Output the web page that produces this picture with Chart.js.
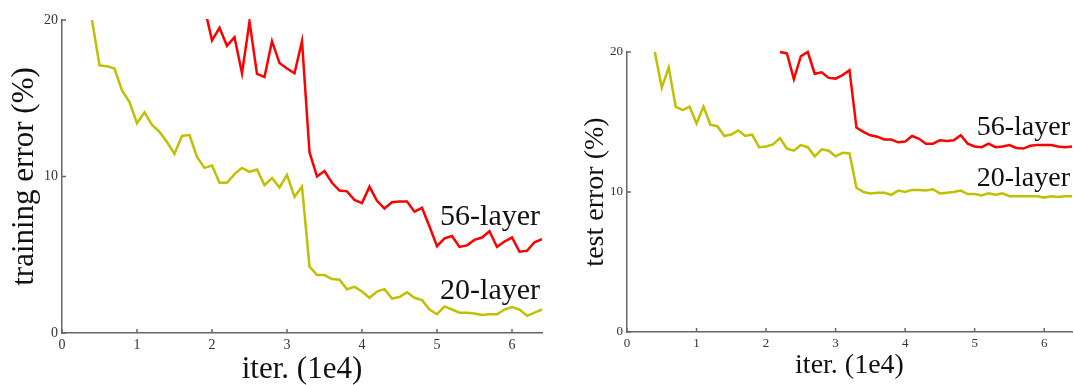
<!DOCTYPE html>
<html>
<head>
<meta charset="utf-8">
<script src="https://cdn.jsdelivr.net/npm/chart.js@4.4.0/dist/chart.umd.min.js"></script>
<style>
  body { margin: 0; background: #fff; }
  .panel { position: absolute; top: 0; }
</style>
</head>
<body>
<div class="panel" style="left:0"><canvas id="train" width="545" height="385"></canvas></div>
<div class="panel" style="left:545px"><canvas id="test" width="529" height="385"></canvas></div>
<script>
// iterations (1e4), one point every 1000 iter
const iters = [
  0.4, 0.5, 0.6, 0.7, 0.8, 0.9,
  1.0, 1.1, 1.2, 1.3, 1.4, 1.5, 1.6, 1.7, 1.8, 1.9,
  2.0, 2.1, 2.2, 2.3, 2.4, 2.5, 2.6, 2.7, 2.8, 2.9,
  3.0, 3.1, 3.2, 3.3, 3.4, 3.5, 3.6, 3.7, 3.8, 3.9,
  4.0, 4.1, 4.2, 4.3, 4.4, 4.5, 4.6, 4.7, 4.8, 4.9,
  5.0, 5.1, 5.2, 5.3, 5.4, 5.5, 5.6, 5.7, 5.8, 5.9,
  6.0, 6.1, 6.2, 6.3, 6.4
];

const seriesNames = ["56-layer", "20-layer"];
const xTicks = [0, 1, 2, 3, 4, 5, 6];
const yTicks = [0, 10, 20];

// training error (%)
const train56 = [
  null, null, null, null, null, null,
  null, null, null, null, null, null, null, null, null, 20.8,
  18.7, 19.5, 18.35, 18.9, 16.6, 19.9, 16.55, 16.35, 18.65, 17.25,
  16.9, 16.6, 18.65, 11.55, 10.0, 10.35, 9.6, 9.1, 9.05, 8.5,
  8.3, 9.35, 8.45, 7.95, 8.35, 8.4, 8.4, 7.75, 8.0, 6.8,
  5.55, 6.05, 6.2, 5.5, 5.6, 5.95, 6.1, 6.5, 5.5, 5.85,
  6.1, 5.2, 5.25, 5.8, 6.0
];
const train20 = [
  20.0, 17.1, 17.05, 16.9, 15.5, 14.75,
  13.4, 14.1, 13.3, 12.85, 12.2, 11.45, 12.6, 12.65, 11.25, 10.55,
  10.7, 9.6, 9.6, 10.15, 10.55, 10.3, 10.45, 9.45, 9.9, 9.3,
  10.1, 8.7, 9.35, 4.25, 3.7, 3.7, 3.45, 3.4, 2.8, 2.95,
  2.65, 2.25, 2.65, 2.8, 2.2, 2.3, 2.6, 2.25, 2.1, 1.5,
  1.2, 1.7, 1.5, 1.3, 1.3, 1.25, 1.15, 1.2, 1.2, 1.5,
  1.65, 1.5, 1.1, 1.3, 1.5
];

// test error (%)
const test56 = [
  null, null, null, null, null, null,
  null, null, null, null, null, null, null, null, null, null,
  null, null, 20.0, 19.9, 18.05, 19.7, 20.0, 18.45, 18.55, 18.15,
  18.1, 18.35, 18.7, 14.6, 14.3, 14.05, 13.95, 13.75, 13.75, 13.55,
  13.6, 14.0, 13.8, 13.45, 13.45, 13.7, 13.65, 13.7, 14.05, 13.45,
  13.25, 13.2, 13.45, 13.2, 13.25, 13.35, 13.15, 13.1, 13.3, 13.35,
  13.35, 13.35, 13.25, 13.2, 13.25
];
const test20 = [
  20.0, 17.45, 18.9, 16.1, 15.85, 16.1,
  14.9, 16.1, 14.8, 14.7, 14.0, 14.1, 14.4, 14.0, 14.1, 13.2,
  13.25, 13.4, 13.85, 13.1, 12.95, 13.35, 13.2, 12.55, 13.05, 12.95,
  12.55, 12.8, 12.75, 10.3, 10.0, 9.9, 9.95, 9.95, 9.8, 10.1,
  10.0, 10.15, 10.15, 10.1, 10.2, 9.9, 9.95, 10.0, 10.1, 9.85,
  9.85, 9.75, 9.9, 9.8, 9.9, 9.7, 9.7, 9.7, 9.7, 9.7,
  9.6, 9.7, 9.65, 9.7, 9.7
];

const RED = "#ff0000";
const OLIVE = "#c0c000";
const AXIS = "#666666";
const FONT = "'Liberation Serif', 'DejaVu Serif', serif";

// small tick marks pointing into the plot, like the original figure
const innerTicks = {
  id: "innerTicks",
  beforeDatasetsDraw(chart, args, opts) {
    const { ctx, chartArea: a, scales: { x, y } } = chart;
    ctx.save();
    ctx.strokeStyle = AXIS;
    ctx.lineWidth = 1.5;
    x.ticks.forEach(t => {
      const px = x.getPixelForValue(t.value);
      ctx.beginPath(); ctx.moveTo(px, a.bottom); ctx.lineTo(px, a.bottom - opts.len); ctx.stroke();
    });
    y.ticks.forEach(t => {
      const py = y.getPixelForValue(t.value);
      ctx.beginPath(); ctx.moveTo(a.left, py); ctx.lineTo(a.left + opts.len, py); ctx.stroke();
    });
    ctx.restore();
  }
};

// "56-layer" / "20-layer" text next to the curves
const curveNames = {
  id: "curveNames",
  afterDatasetsDraw(chart, args, opts) {
    const { ctx, scales: { x, y } } = chart;
    ctx.save();
    ctx.font = opts.size + "px " + FONT;
    ctx.fillStyle = "#111";
    ctx.textAlign = "right";
    ctx.textBaseline = "alphabetic";
    opts.items.forEach(it => {
      ctx.fillText(it.text, x.getPixelForValue(it.x) - 2, y.getPixelForValue(it.y));
    });
    ctx.restore();
  }
};

function points(values) {
  return iters.map((x, i) => ({ x: x, y: values[i] }));
}

function MakeChart(id, c) {
  new Chart(document.getElementById(id), {
    type: "line",
    data: {
      datasets: [
        { label: seriesNames[0], data: points(c.deep), borderColor: RED, borderWidth: 2.5, pointRadius: 0, tension: 0, clip: c.clip },
        { label: seriesNames[1], data: points(c.shallow), borderColor: OLIVE, borderWidth: 2.5, pointRadius: 0, tension: 0, clip: c.clip }
      ]
    },
    options: {
      responsive: false,
      animation: false,
      layout: { padding: c.padding },
      plugins: {
        legend: { display: false },
        tooltip: { enabled: false },
        innerTicks: { len: 4 },
        curveNames: { size: c.nameSize, items: c.names }
      },
      scales: {
        x: {
          type: "linear",
          min: 0,
          max: 6.4,
          afterFit: s => { s.height = c.xHeight; },
          afterBuildTicks: s => { s.ticks = xTicks.map(v => ({ value: v })); },
          grid: { display: true, drawOnChartArea: false, drawTicks: false },
          border: { display: true, color: AXIS, width: 1.5 },
          ticks: { padding: 4, color: "#333", font: { family: FONT, size: c.tickSize } },
          title: { display: true, text: "iter. (1e4)", color: "#111", padding: { top: 0, bottom: c.xTitlePad }, font: { family: FONT, size: c.titleSize, lineHeight: 1 } }
        },
        y: {
          min: 0,
          max: 20,
          afterFit: s => { s.width = c.yWidth; },
          afterBuildTicks: s => { s.ticks = yTicks.map(v => ({ value: v })); },
          grid: { display: true, drawOnChartArea: false, drawTicks: false },
          border: { display: true, color: AXIS, width: 1.5 },
          ticks: { padding: 4, color: "#333", font: { family: FONT, size: c.tickSize } },
          title: { display: true, text: c.yTitle, color: "#111", padding: { top: c.yTitlePad, bottom: 0 }, font: { family: FONT, size: c.titleSize, lineHeight: 1 } }
        }
      }
    },
    plugins: [innerTicks, curveNames]
  });
}

MakeChart("train", {
  deep: train56,
  shallow: train20,
  yTitle: "training error (%)",
  padding: { top: 20, right: 3, bottom: 0, left: 0 },
  yWidth: 62,
  xHeight: 52,
  tickSize: 14,
  titleSize: 31,
  nameSize: 30,
  xTitlePad: 0,
  yTitlePad: 9,
  clip: 1,
  names: [
    { text: seriesNames[0], x: 6.4, y: 6.9 },
    { text: seriesNames[1], x: 6.4, y: 2.2 }
  ]
});

MakeChart("test", {
  deep: test56,
  shallow: test20,
  yTitle: "test error (%)",
  padding: { top: 52, right: 2, bottom: 0, left: 0 },
  yWidth: 82,
  xHeight: 53,
  tickSize: 13,
  titleSize: 28,
  nameSize: 28,
  xTitlePad: 5,
  yTitlePad: 37,
  clip: 3,
  names: [
    { text: seriesNames[0], x: 6.4, y: 14.1 },
    { text: seriesNames[1], x: 6.4, y: 10.4 }
  ]
});
</script>
</body>
</html>
